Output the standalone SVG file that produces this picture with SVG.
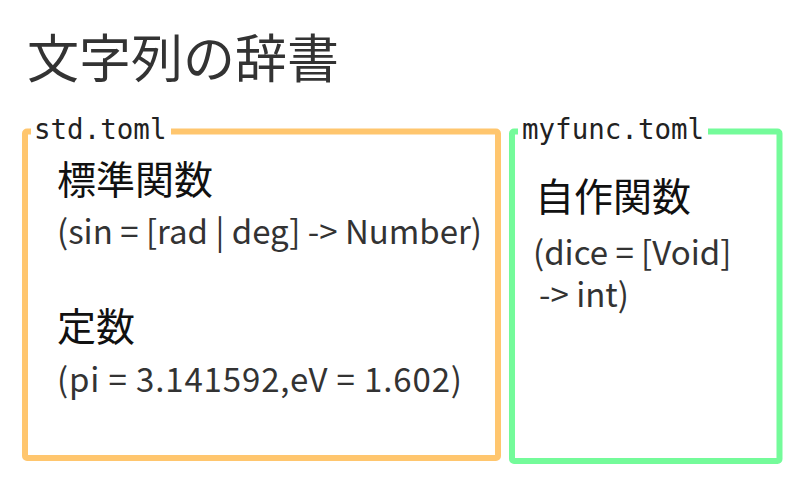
<svg xmlns="http://www.w3.org/2000/svg" width="800" height="480" viewBox="0 0 800 480">
<style>
.t{font-family:"Noto Sans CJK JP","Noto Sans",sans-serif;}
.title{font-size:52px;fill:#333;}
.h{font-size:39px;fill:#111;}
.b{font-size:33px;fill:#333;}
.lbl{font-family:"DejaVu Sans Mono","Liberation Mono",monospace;font-size:27.5px;fill:#222;}
.box{fill:none;stroke-width:6;}
</style>
<rect x="0" y="0" width="800" height="480" fill="#fff"/>
<text class="t title" x="27" y="78">文字列の辞書</text>
<g id="std">
<rect class="box" x="25" y="131.5" width="473" height="326.5" rx="2" stroke="#FFC66E"/>
<rect x="31" y="120" width="140" height="20" fill="#fff"/>
<text class="lbl" x="34" y="139">std.toml</text>
<text class="t h" x="57" y="194">標準関数</text>
<text class="t b" x="57" y="244">(sin = [rad | deg] -&gt; Number)</text>
<text class="t h" x="57" y="341">定数</text>
<text class="t b" x="57" y="392" textLength="405" lengthAdjust="spacing">(pi = 3.141592,eV = 1.602)</text>
</g>
<g id="myfunc">
<rect class="box" x="512" y="131.5" width="267.5" height="329.5" rx="2" stroke="#74FB9A"/>
<rect x="518" y="120" width="190" height="20" fill="#fff"/>
<text class="lbl" x="522" y="139">myfunc.toml</text>
<text class="t h" x="535" y="211">自作関数</text>
<text class="t b" x="533" y="265">(dice = [Void]</text>
<text class="t b" x="539" y="307">-&gt; int)</text>
</g>
<g id="connectors"/>
</svg>
